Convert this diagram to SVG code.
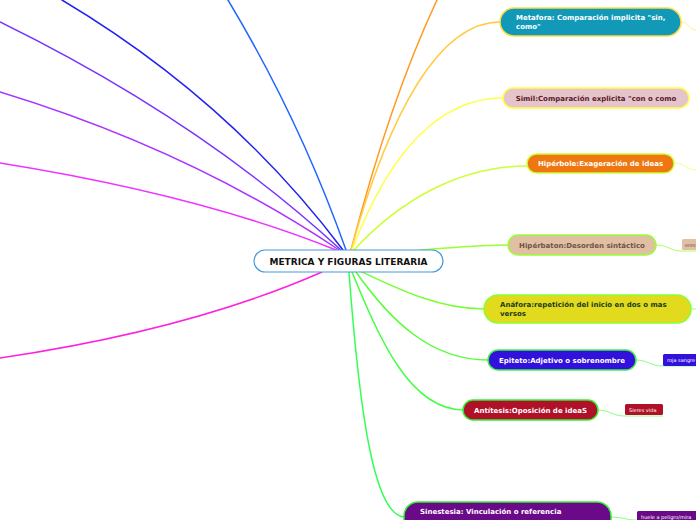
<svg xmlns="http://www.w3.org/2000/svg" width="696" height="520" viewBox="0 0 696 520">
<style>
.c{fill:none;stroke-width:1.5;stroke-linecap:round}
.t{stroke-width:1;fill:none}
.n{stroke-width:1.5}
text{font-family:"DejaVu Sans","Verdana",sans-serif;font-weight:bold}
.w{fill:#ffffff}
.s{font-size:5px;font-weight:normal}
</style>
<rect width="696" height="520" fill="#ffffff"/>
<g id="connectors">
<path class="c" stroke="#2266ff" d="M346,250 Q300,120 228,0"/>
<path class="c" stroke="#2222ee" d="M343,250 Q230,100 62,0"/>
<path class="c" stroke="#7733ff" d="M341,250 Q200,120 0,22"/>
<path class="c" stroke="#aa33ff" d="M339,250 Q190,150 0,92"/>
<path class="c" stroke="#ee33ff" d="M336,250 Q200,195 0,163"/>
<path class="c" stroke="#ff22dd" d="M322,272 Q190,330 0,358"/>
<path class="c" stroke="#ff9922" d="M351,250 Q390,100 437,0"/>
<path class="c" stroke="#ffcc44" stroke-width="1" d="M351,250 C390,110 440,22 500,22"/>
<path class="c" stroke="#ffff44" stroke-width="1" d="M352,250 C390,150 440,98 503,98"/>
<path class="c" stroke="#ccff33" stroke-width="1" d="M354,250 C400,200 460,166 527,166"/>
<path class="c" stroke="#99ff33" stroke-width="1" d="M420,250 C450,248 480,245 508,245"/>
<path class="c" stroke="#77ff33" stroke-width="1" d="M362,272 C400,290 440,309 484,309"/>
<path class="c" stroke="#55ff33" stroke-width="1" d="M356,272 C390,320 430,360 488,360"/>
<path class="c" stroke="#44ff44" stroke-width="1" d="M352,272 C380,340 410,410 464,410"/>
<path class="c" stroke="#33ff55" stroke-width="1" d="M349,272 C360,420 375,517 405,517"/>
<path class="t" stroke="#ffee88" d="M681,22 C688,22 690,30 696,30"/>
<path class="t" stroke="#eeff88" d="M674,163 C684,163 688,170 696,170"/>
<path class="t" stroke="#aaff66" d="M656,245 C668,245 670,251 682,251 L696,251"/>
<path class="t" stroke="#aaff66" d="M691,309 L696,309"/>
<path class="t" stroke="#88ff88" d="M636,360 C648,360 650,366 663,366 L696,366"/>
<path class="t" stroke="#88ff88" d="M598,410 C610,410 612,416 625,416 L663,416"/>
<path class="t" stroke="#88ff88" d="M611,517 C622,517 626,520 637,520"/>
</g>
<g id="center">
<rect x="254" y="250" width="189" height="22" rx="11" fill="#ffffff" stroke="#4499dd" stroke-width="1.2"/>
<text x="348.5" y="264.5" font-size="9" text-anchor="middle" fill="#111111">METRICA Y FIGURAS LITERARIA</text>
</g>
<g id="metafora">
<rect class="n" x="500" y="8" width="181" height="28" rx="14" fill="#1399b8" stroke="#ffdd44"/>
<text class="w" x="516" y="20" font-size="7">Metafora: Comparación implicita "sin,</text>
<text class="w" x="516" y="29" font-size="7">como"</text>
</g>
<g id="simil">
<rect class="n" x="503" y="88" width="186" height="20" rx="10" fill="#e6c4cc" stroke="#ffff44"/>
<text x="596" y="101" font-size="7" text-anchor="middle" fill="#5a1a2a">Simil:Comparación  explicita "con o como</text>
</g>
<g id="hiperbole">
<rect class="n" x="527" y="154" width="147" height="19" rx="9.5" fill="#ee7711" stroke="#ccff33"/>
<text class="w" x="600.5" y="166" font-size="7" text-anchor="middle">Hipérbole:Exageración de ideas</text>
</g>
<g id="hiperbaton">
<rect class="n" x="508" y="235" width="148" height="20" rx="10" fill="#e0bfa2" stroke="#99ff33"/>
<text x="582" y="248" font-size="7" text-anchor="middle" fill="#6e5548">Hipérbaton:Desorden sintáctico</text>
</g>
<g id="hiperbaton-ej">
<rect x="682" y="239" width="20" height="11" rx="1.5" fill="#e0bfa2"/>
<text x="685" y="246.5" class="s" fill="#6e5548">eres</text>
</g>
<g id="anafora">
<rect class="n" x="484" y="295" width="207" height="28" rx="14" fill="#e2da1d" stroke="#88ff33"/>
<text x="500" y="307" font-size="7" fill="#1c3a1c">Anáfora:repetición del inicio en dos o mas</text>
<text x="500" y="316" font-size="7" fill="#1c3a1c">versos</text>
</g>
<g id="epiteto">
<rect class="n" x="488" y="350" width="148" height="20" rx="10" fill="#3311dd" stroke="#44ee44"/>
<text class="w" x="562" y="363" font-size="7" text-anchor="middle">Epiteto:Adjetivo o sobrenombre</text>
</g>
<g id="epiteto-ej">
<rect x="663" y="354" width="40" height="12" rx="1.5" fill="#3311dd"/>
<text class="w s" x="667" y="362">roja sangre</text>
</g>
<g id="antitesis">
<rect class="n" x="463" y="400" width="135" height="20" rx="10" fill="#b01028" stroke="#33ee33"/>
<text class="w" x="530.5" y="413" font-size="7" text-anchor="middle">Antítesis:Oposición de ideaS</text>
</g>
<g id="antitesis-ej">
<rect x="625" y="404" width="38" height="11" rx="1.5" fill="#b01028"/>
<text class="w s" x="629" y="411.5">Sieres vida</text>
</g>
<g id="sinestesia">
<rect class="n" x="404" y="502" width="207" height="34" rx="14" fill="#6a0a88" stroke="#33ee33"/>
<text class="w" x="420" y="514" font-size="7">Sinestesia: Vinculación o referencia</text>
</g>
<g id="sinestesia-ej">
<rect x="637" y="511" width="70" height="12" rx="1.5" fill="#6a0a88"/>
<text class="w s" x="641" y="518.5">huele a peligro/mira</text>
</g>
</svg>
